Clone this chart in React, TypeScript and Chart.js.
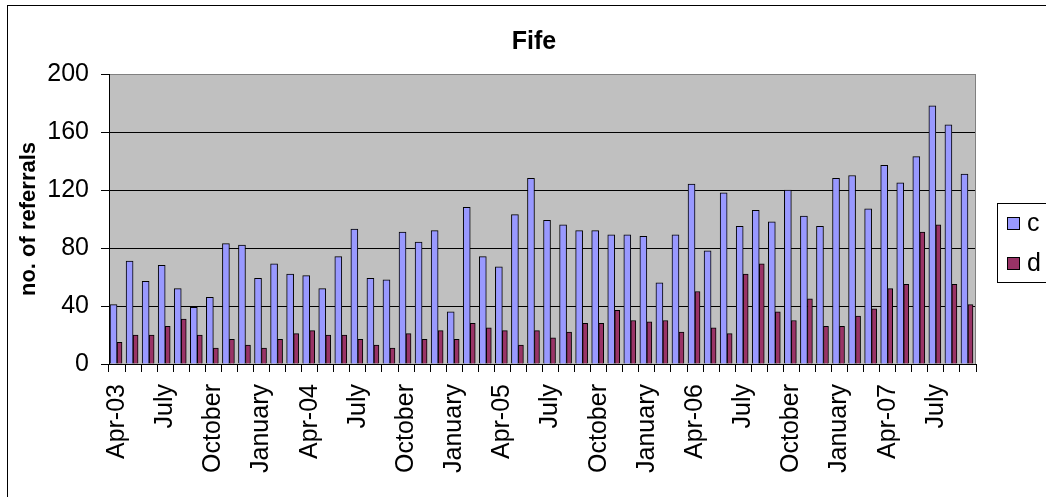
import React, { useEffect, useRef } from 'react';
import { Chart, registerables } from 'chart.js';

Chart.register(...registerables);

const FONT = '"Liberation Sans", Arial, Helvetica, sans-serif';

const chartTitle = 'Fife';
const yAxisTitle = 'no. of referrals';

const months = [
  'Apr-03', 'May', 'June', 'July', 'August', 'September', 'October', 'November', 'December',
  'January', 'February', 'March', 'Apr-04', 'May', 'June', 'July', 'August', 'September', 'October', 'November', 'December',
  'January', 'February', 'March', 'Apr-05', 'May', 'June', 'July', 'August', 'September', 'October', 'November', 'December',
  'January', 'February', 'March', 'Apr-06', 'May', 'June', 'July', 'August', 'September', 'October', 'November', 'December',
  'January', 'February', 'March', 'Apr-07', 'May', 'June', 'July', 'August', 'September',
];

const seriesC = [
  41, 71, 57, 68, 52, 39, 46, 83, 82, 59, 69, 62, 61, 52, 74, 93, 59, 58,
  91, 84, 92, 36, 108, 74, 67, 103, 128, 99, 96, 92, 92, 89, 89, 88, 56, 89,
  124, 78, 118, 95, 106, 98, 120, 102, 95, 128, 130, 107, 137, 125, 143, 178, 165, 131,
];

const seriesD = [
  15, 20, 20, 26, 31, 20, 11, 17, 13, 11, 17, 21, 23, 20, 20, 17, 13, 11,
  21, 17, 23, 17, 28, 25, 23, 13, 23, 18, 22, 28, 28, 37, 30, 29, 30, 22,
  50, 25, 21, 62, 69, 36, 30, 45, 26, 26, 33, 38, 52, 55, 91, 96, 55, 41,
];

const yMin = 0;
const yMax = 200;
const yStep = 40;

export default function App() {
  const ref = useRef<HTMLCanvasElement>(null);

  useEffect(() => {
    if (!ref.current) return;

    const plotBg = {
      id: 'plotBg',
      beforeDraw(chart: any) {
        const { ctx, chartArea: a } = chart;
        ctx.save();
        ctx.fillStyle = '#C0C0C0';
        ctx.fillRect(a.left, a.top, a.right - a.left, a.bottom - a.top);
        ctx.restore();
      },
    };

    const frame = {
      id: 'frame',
      afterDraw(chart: any) {
        const { ctx, chartArea: a } = chart;
        ctx.save();
        ctx.lineWidth = 1;
        // right border of plot area
        ctx.strokeStyle = '#808080';
        const rx = Math.round(a.right) - 0.5;
        ctx.beginPath();
        ctx.moveTo(rx, Math.round(a.top));
        ctx.lineTo(rx, Math.round(a.bottom));
        ctx.stroke();
        // outer chart frame
        ctx.strokeStyle = '#000';
        ctx.strokeRect(7.5, 5.5, 1200, 1000);
        // legend
        const lx = 997;
        const ly = 203;
        ctx.strokeRect(lx + 0.5, ly + 0.5, 200, 79);
        ctx.font = `25px ${FONT}`;
        ctx.textBaseline = 'middle';
        ctx.textAlign = 'left';
        chart.data.datasets.forEach((ds: any, i: number) => {
          const y = 217 + i * 40;
          ctx.fillStyle = ds.backgroundColor;
          ctx.fillRect(1007, y, 13, 13);
          ctx.strokeStyle = '#000';
          ctx.strokeRect(1007.5, y + 0.5, 12, 12);
          ctx.fillStyle = '#000';
          ctx.fillText(ds.label, 1027, y + 7);
        });
        ctx.restore();
      },
    };

    const chart = new Chart(ref.current, {
      type: 'bar',
      data: {
        labels: months,
        datasets: [
          {
            label: 'c',
            data: seriesC,
            backgroundColor: '#9999FF',
            borderColor: '#000000',
            borderWidth: 1,
            barThickness: 7,
            yAxisID: 'y',
          },
          {
            label: 'd',
            data: seriesD,
            backgroundColor: '#993366',
            borderColor: '#000000',
            borderWidth: 1,
            barThickness: 5,
            yAxisID: 'y',
          },
        ],
      },
      options: {
        responsive: false,
        devicePixelRatio: 1,
        animation: false,
        events: [],
        layout: { padding: { left: 22, right: 0, top: 0, bottom: 0 } },
        plugins: {
          legend: { display: false },
          tooltip: { enabled: false },
          title: {
            display: true,
            text: chartTitle,
            color: '#000',
            font: { family: FONT, size: 25, weight: 'bold', lineHeight: 1.2 },
            padding: { top: 27, bottom: 17 },
          },
        },
        scales: {
          x: {
            offset: true,
            grid: {
              display: true,
              offset: true,
              drawOnChartArea: false,
              drawTicks: true,
              tickLength: 8,
              color: '#000',
              tickColor: '#000',
            },
            border: { display: true, color: '#000' },
            ticks: {
              autoSkip: false,
              maxRotation: 90,
              minRotation: 90,
              padding: 12,
              color: '#000',
              font: { family: FONT, size: 25 },
              callback: (_v: any, i: number) => (i % 3 === 0 ? months[i] : ''),
            },
            afterFit: (s: any) => {
              s.height = 133;
            },
          },
          y: {
            position: 'left',
            min: yMin,
            max: yMax,
            grid: {
              color: (c: any) => (c.tick && c.tick.value === yMax ? '#808080' : '#000'),
              tickColor: '#000',
              drawTicks: true,
              tickLength: 8,
            },
            border: { display: true, color: '#000' },
            ticks: {
              stepSize: yStep,
              padding: 12,
              color: '#000',
              font: { family: FONT, size: 25 },
            },
            title: {
              display: true,
              text: yAxisTitle,
              color: '#000',
              font: { family: FONT, size: 22, weight: 'bold', lineHeight: 1.2 },
              padding: { top: -6, bottom: 0 },
            },
            afterFit: (s: any) => {
              s.width = 87;
            },
          },
          // empty right-hand strip reserving room for the legend
          legendSpace: {
            type: 'linear',
            position: 'right',
            display: true,
            grid: { display: false, drawTicks: false },
            border: { display: false },
            ticks: { display: false },
            afterFit: (s: any) => {
              s.width = 70;
            },
          },
        },
      },
      plugins: [plotBg, frame],
    } as any);

    return () => chart.destroy();
  }, []);

  return (
    <canvas
      ref={ref}
      width={1046}
      height={497}
      style={{ position: 'fixed', left: 0, top: 0, display: 'block' }}
    />
  );
}
